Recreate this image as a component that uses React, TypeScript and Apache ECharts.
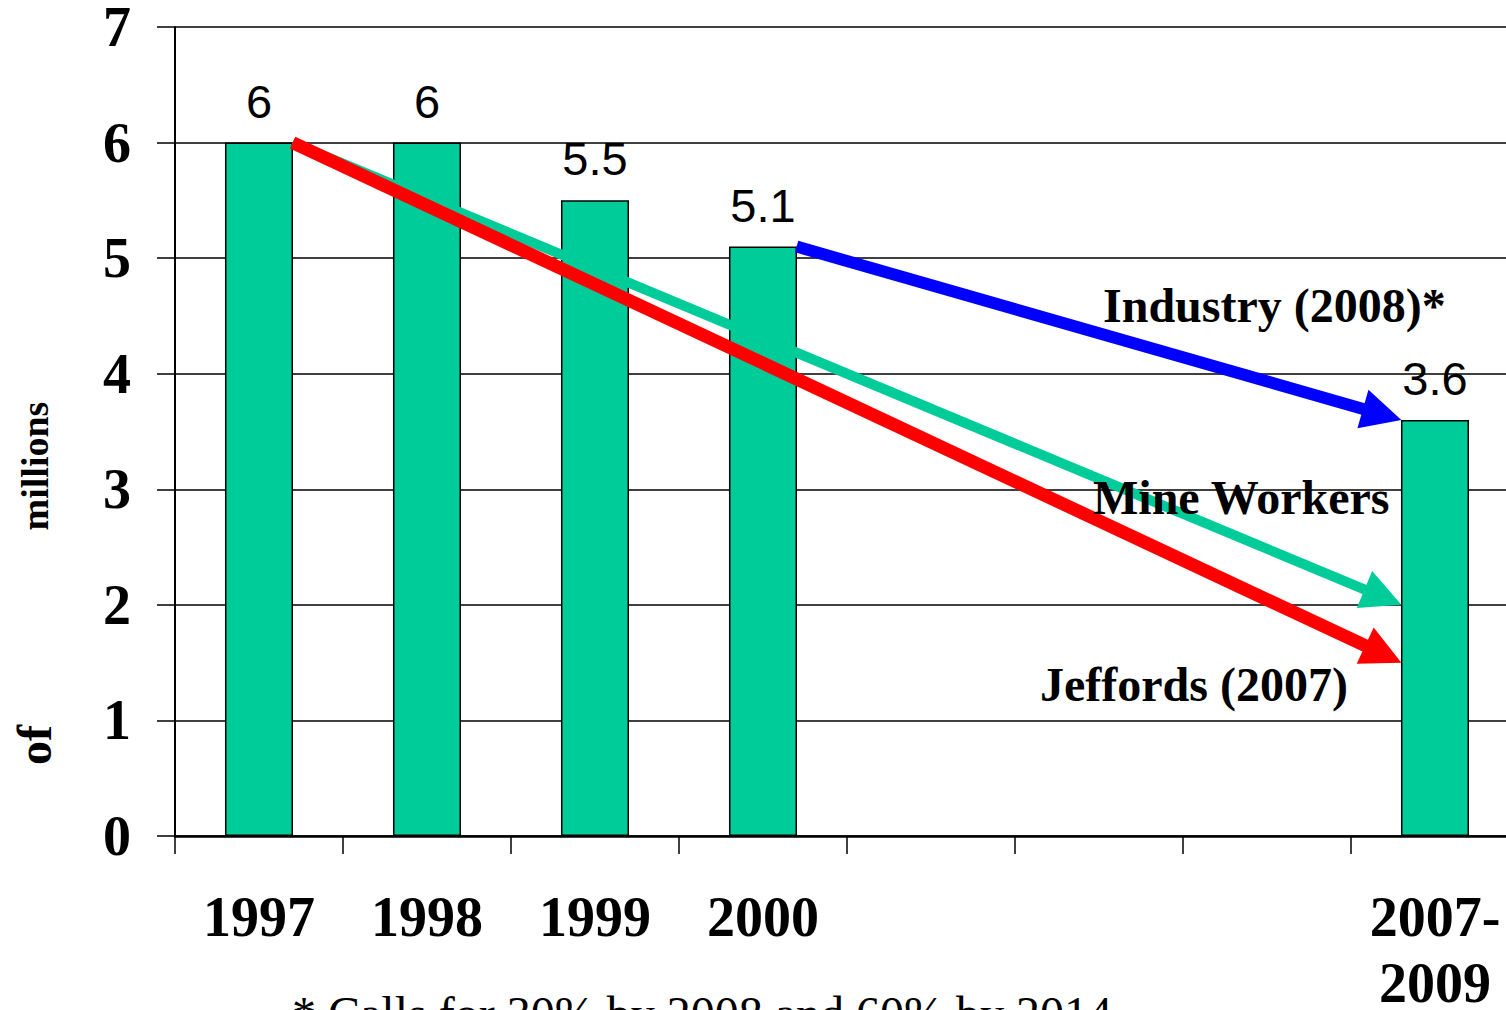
import React, { useEffect, useRef } from "react";
import * as echarts from "echarts";

// ---- data ----
const categories = ["1997", "1998", "1999", "2000", "", "", "", "2007-\n2009"];
const values: (number | null)[] = [6, 6, 5.5, 5.1, null, null, null, 3.6];
const yMin = 0;
const yMax = 7;
const yStep = 1;

// arrows in data space: x = category position (category i centre = i + 0.5), y = millions
const arrowNames = ["Mine Workers", "Jeffords (2007)", "Industry (2008)*"];
const arrowFromX = [0.7, 0.7, 3.7];
const arrowFromY = [6, 6, 5.1];
const arrowToX = [7.3, 7.3, 7.3];
const arrowToY = [2.0, 1.5, 3.6];

const footnote = "* Calls for 30% by 2008 and 60% by 2014";

// ---- styles ----
const BAR_COLOR = "#00CC99";
const arrowColors = ["#00CC99", "#FF0000", "#0000FF"];
const arrowWidths = [10, 13, 12];
const SERIF = "'Liberation Serif', 'Times New Roman', serif";
const SANS = "'Liberation Sans', Arial, sans-serif";

export default function App() {
  const ref = useRef<HTMLDivElement>(null);

  useEffect(() => {
    if (!ref.current) return;
    const chart = echarts.init(ref.current, null, { renderer: "svg" });

    const arrowData = arrowNames.map((_, i) => [
      arrowFromX[i],
      arrowFromY[i],
      arrowToX[i],
      arrowToY[i],
    ]);

    const textEl = (
      text: string,
      x: number,
      y: number,
      size: number,
      opts: any = {}
    ) => ({
      type: "text",
      x,
      y,
      z: 100,
      rotation: opts.rotation || 0,
      style: {
        text,
        fill: "#000",
        fontSize: size,
        fontFamily: opts.family || SERIF,
        fontWeight: opts.weight || "bold",
        align: opts.align || "left",
        verticalAlign: "middle",
        textAlign: opts.align || "left",
        textVerticalAlign: "middle",
      },
    });

    chart.setOption({
      animation: false,
      backgroundColor: "#fff",
      grid: {
        left: 175,
        top: 27,
        right: -13,
        bottom: 174,
        containLabel: false,
        outerBoundsMode: "none",
      },
      xAxis: [
        {
          type: "category",
          data: categories,
          boundaryGap: true,
          axisLine: { show: true, lineStyle: { color: "#000", width: 2.5 } },
          axisTick: { show: true, interval: 0, length: 18, lineStyle: { color: "#000", width: 1.5 } },
          axisLabel: {
            interval: 0,
            margin: 48,
            color: "#000",
            fontFamily: SERIF,
            fontWeight: "bold",
            fontSize: 56,
            lineHeight: 66,
          },
          splitLine: { show: false },
        },
        {
          type: "value",
          min: 0,
          max: categories.length,
          show: false,
          splitLine: { show: false },
        },
      ],
      yAxis: {
        type: "value",
        min: yMin,
        max: yMax,
        interval: yStep,
        axisLine: { show: true, lineStyle: { color: "#000", width: 2 } },
        axisTick: { show: true, length: 18, lineStyle: { color: "#000", width: 1.5 } },
        axisLabel: {
          margin: 44,
          color: "#000",
          fontFamily: SERIF,
          fontWeight: "bold",
          fontSize: 56,
        },
        splitLine: { show: true, lineStyle: { color: "#000", width: 1.5 } },
      },
      series: [
        {
          type: "bar",
          data: values,
          barWidth: "40.5%",
          itemStyle: { color: BAR_COLOR, borderColor: "#000", borderWidth: 1.5 },
          label: {
            show: true,
            position: "top",
            distance: 18,
            color: "#000",
            fontFamily: SANS,
            fontSize: 47,
            formatter: (p: any) => (p.value == null ? "" : String(p.value)),
          },
          z: 2,
        },
        {
          type: "custom",
          xAxisIndex: 1,
          yAxisIndex: 0,
          clip: false,
          z: 5,
          encode: { x: [0, 2], y: [1, 3] },
          data: arrowData,
          renderItem: (params: any, api: any) => {
            const i = params.dataIndex;
            const p0 = api.coord([api.value(0), api.value(1)]);
            const p1 = api.coord([api.value(2), api.value(3)]);
            const dx = p1[0] - p0[0];
            const dy = p1[1] - p0[1];
            const len = Math.hypot(dx, dy);
            const ux = dx / len;
            const uy = dy / len;
            const headLen = 40;
            const headHalf = 20;
            const bx = p1[0] - ux * headLen;
            const by = p1[1] - uy * headLen;
            const nx = -uy;
            const ny = ux;
            const color = arrowColors[i];
            return {
              type: "group",
              children: [
                {
                  type: "line",
                  shape: { x1: p0[0], y1: p0[1], x2: bx + ux * 3, y2: by + uy * 3 },
                  style: { stroke: color, lineWidth: arrowWidths[i], lineCap: "butt" },
                },
                {
                  type: "polygon",
                  shape: {
                    points: [
                      [p1[0], p1[1]],
                      [bx + nx * headHalf, by + ny * headHalf],
                      [bx - nx * headHalf, by - ny * headHalf],
                    ],
                  },
                  style: { fill: color },
                },
              ],
            };
          },
        },
      ],
      graphic: [
        textEl(arrowNames[2], 1103, 305, 48),
        textEl(arrowNames[0], 1093, 497, 48),
        textEl(arrowNames[1], 1040, 684, 48),
        textEl("millions", 35, 466, 38, { align: "center", rotation: Math.PI / 2 }),
        textEl("of", 34, 745, 48, { align: "center", rotation: Math.PI / 2 }),
        textEl(footnote, 702, 1013, 48, { align: "center", weight: "normal" }),
      ],
    });

    return () => chart.dispose();
  }, []);

  return (
    <div
      ref={ref}
      style={{ position: "fixed", left: 0, top: 0, width: 1506, height: 1010, background: "#fff" }}
    />
  );
}
